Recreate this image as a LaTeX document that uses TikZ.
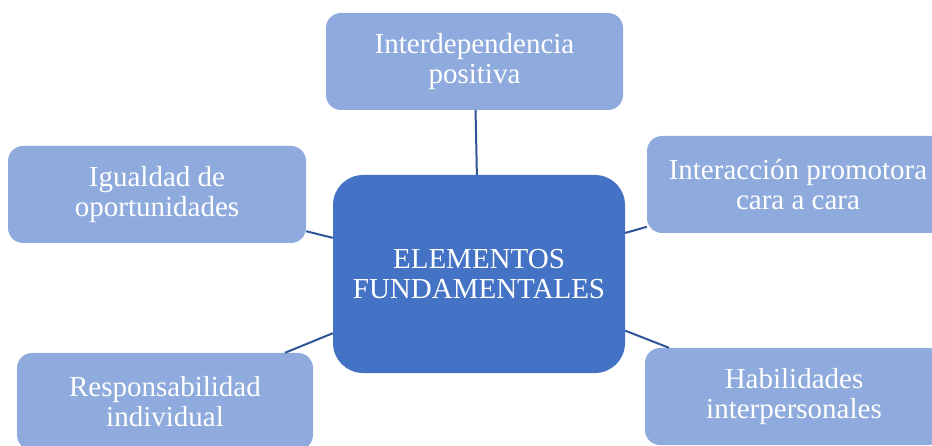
\documentclass[tikz,border=0pt]{standalone}
\usepackage{fontspec}
\setmainfont{Liberation Serif}
\definecolor{sat}{HTML}{8FAADC}
\definecolor{ctr}{HTML}{4472C4}
\definecolor{lnk}{HTML}{2F5597}
\tikzset{
  satbox/.style={rectangle, rounded corners=15pt, fill=sat, text=white,
    minimum width=298pt, minimum height=97pt, inner sep=0pt, align=center,
    font=\fontsize{29}{30}\selectfont},
  ctrbox/.style={rectangle, rounded corners=30pt, fill=ctr, text=white,
    minimum width=292pt, minimum height=198pt, inner sep=0pt, align=center,
    font=\fontsize{29}{30}\selectfont},
  link/.style={draw=lnk, line width=2pt}
}
\begin{document}
\begin{tikzpicture}[x=1pt,y=-1pt]
\useasboundingbox (0,0) rectangle (932,446);
\clip (0,0) rectangle (932,446);
\node[ctrbox] (c) at (479,274) {ELEMENTOS\\FUNDAMENTALES};
\node[satbox, minimum width=297pt] (t) at (474.5,61.5) {Interdependencia\\positiva};
\node[satbox] (lt) at (157,194.5) {Igualdad de\\oportunidades};
\node[satbox, minimum width=302pt] (rt) at (798,184.5) {Interacción promotora\\cara a cara};
\node[satbox] (rb) at (794,396.5) {Habilidades\\interpersonales};
\node[satbox, minimum width=296pt] (lb) at (165,401.5) {Responsabilidad\\individual};
\draw[link] (c) -- (t);
\draw[link] (c) -- (lt);
\draw[link] (c) -- (rt);
\draw[link] (c) -- (rb);
\draw[link] (c) -- (lb);
\end{tikzpicture}
\end{document}
